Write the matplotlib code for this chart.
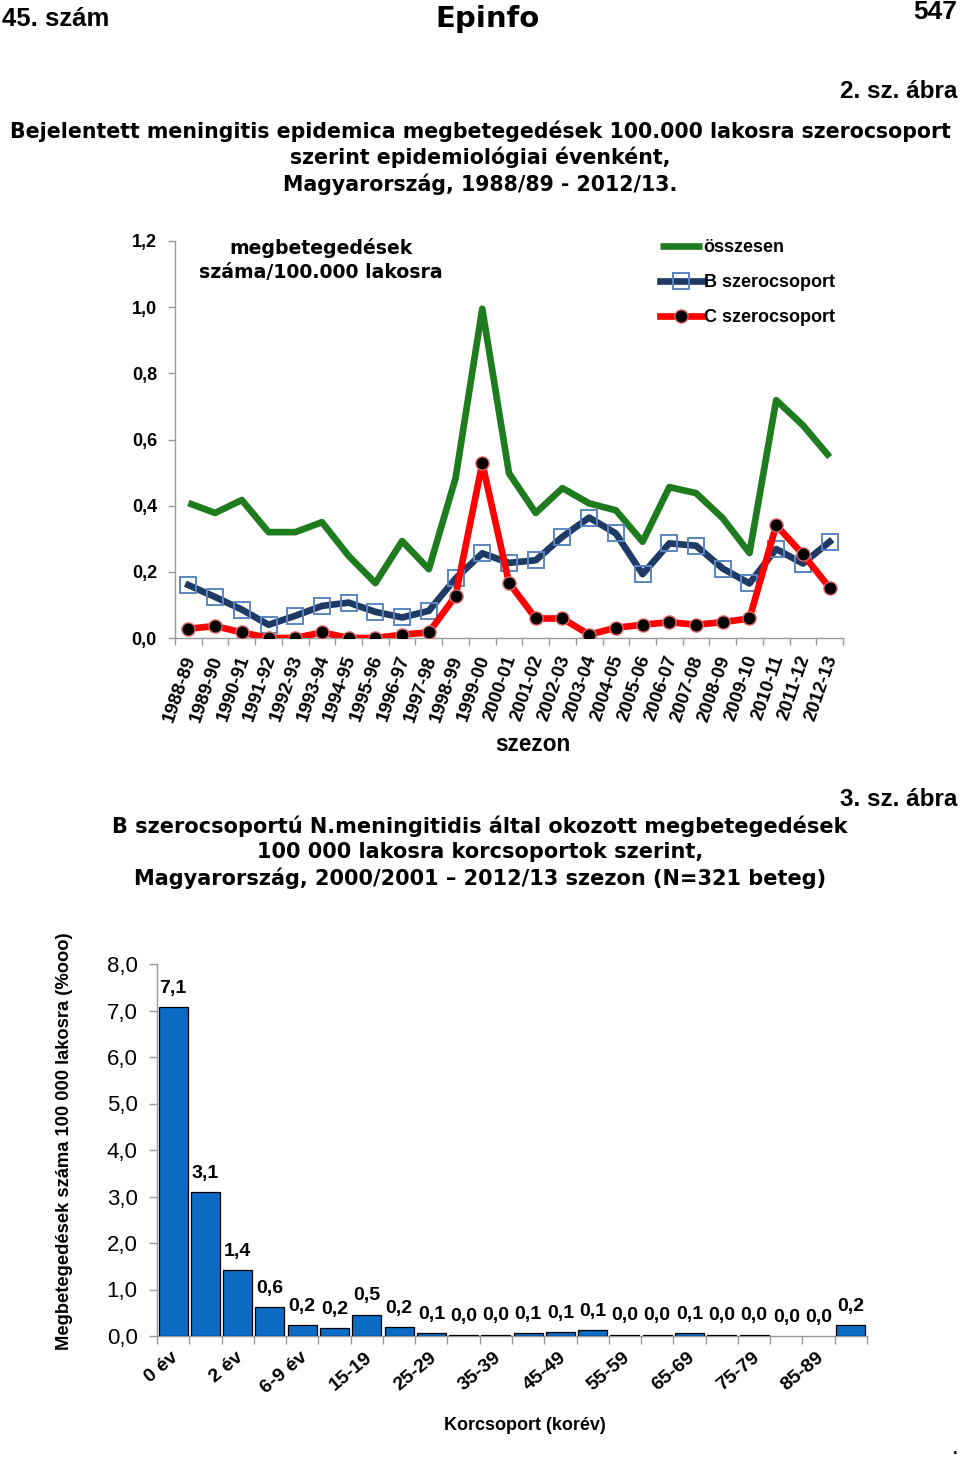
import matplotlib
matplotlib.use("Agg")
import matplotlib.pyplot as plt
from matplotlib.ticker import FuncFormatter, FixedLocator
import numpy as np

# ---------------- data: top chart ----------------
seasons = ["1988-89", "1989-90", "1990-91", "1991-92", "1992-93", "1993-94",
           "1994-95", "1995-96", "1996-97", "1997-98", "1998-99", "1999-00",
           "2000-01", "2001-02", "2002-03", "2003-04", "2004-05", "2005-06",
           "2006-07", "2007-08", "2008-09", "2009-10", "2010-11", "2011-12",
           "2012-13"]
total = [0.408, 0.378, 0.417, 0.320, 0.320, 0.350, 0.248, 0.166, 0.293, 0.208,
         0.483, 0.995, 0.498, 0.378, 0.453, 0.407, 0.386, 0.291, 0.456, 0.438,
         0.362, 0.257, 0.719, 0.643, 0.547]
serogroup_b = [0.160, 0.124, 0.086, 0.040, 0.067, 0.097, 0.107, 0.079, 0.062, 0.082,
               0.180, 0.256, 0.227, 0.235, 0.306, 0.364, 0.316, 0.193, 0.286, 0.279,
               0.210, 0.165, 0.269, 0.225, 0.291]
serogroup_c = [0.028, 0.036, 0.017, 0.000, 0.000, 0.017, 0.000, 0.000, 0.010, 0.017,
               0.127, 0.528, 0.167, 0.059, 0.059, 0.010, 0.031, 0.040, 0.048, 0.040,
               0.048, 0.059, 0.341, 0.253, 0.152]
series_names = ["összesen", "B szerocsoport", "C szerocsoport"]

# ---------------- data: bottom chart ----------------
age_groups = ["0 év", "1 év", "2 év", "3-5 év", "6-9 év", "10-14", "15-19", "20-24",
              "25-29", "30-34", "35-39", "40-44", "45-49", "50-54", "55-59", "60-64",
              "65-69", "70-74", "75-79", "80-84", "85-89", "90+"]
incidence = [7.07, 3.09, 1.41, 0.62, 0.24, 0.17, 0.46, 0.19,
             0.06, 0.02, 0.03, 0.06, 0.09, 0.12, 0.03, 0.03,
             0.06, 0.03, 0.03, 0.0, 0.0, 0.23]
shown_age_ticks = ["0 év", "2 év", "6-9 év", "15-19", "25-29", "35-39", "45-49",
                   "55-59", "65-69", "75-79", "85-89"]

W, H = 960, 1459
fig = plt.figure(figsize=(W / 100, H / 100), dpi=100)
fig.patch.set_facecolor("white")

SANS = ["Liberation Sans", "DejaVu Sans"]
WIDE = ["DejaVu Sans"]
GREY = "#9a9a9a"


def fx(px):
    return px / W


def fy(py):
    return 1 - py / H


def comma(v, pos=None):
    return f"{v:.1f}".replace(".", ",")


# ---------------- header ----------------
fig.text(fx(2), fy(19), "45. szám", family=SANS, weight="bold", fontsize=18.5,
         ha="left", va="center")
fig.text(fx(487), fy(19), "Epinfo", family="DejaVu Sans", weight="heavy", fontsize=21,
         ha="center", va="center")
fig.text(fx(957), fy(12), "547", family=SANS, weight="bold", fontsize=19,
         ha="right", va="center")
fig.text(fx(957), fy(91), "2. sz. ábra", family=SANS, weight="bold", fontsize=17.5,
         ha="right", va="center")
title1 = ["Bejelentett meningitis epidemica megbetegedések 100.000 lakosra szerocsoport",
          "szerint epidemiológiai évenként,",
          "Magyarország, 1988/89 - 2012/13."]
for line, yy in zip(title1, [131, 157, 184]):
    fig.text(fx(480), fy(yy), line, family=WIDE, weight="bold", fontsize=14.8,
             ha="center", va="center")

# ---------------- top chart ----------------
ax1 = fig.add_axes([fx(175), fy(638), fx(843) - fx(175), fy(241) - fy(638)])
x = np.arange(len(seasons))
ax1.plot(x, total, color="#1e7b1e", lw=4.8, solid_capstyle="butt",
         solid_joinstyle="round", label=series_names[0], zorder=2)
ax1.plot(x, serogroup_b, color="#1f3a64", lw=4.8, marker="s", ms=11,
         mfc="none", mec="#5b86c0", mew=1.4, solid_joinstyle="round",
         label=series_names[1], zorder=3)
ax1.plot(x, serogroup_c, color="#ff0000", lw=4.8, marker="o", ms=9.5,
         mfc="black", mec="#e46a6a", mew=1.0, solid_joinstyle="round",
         label=series_names[2], zorder=4)

ax1.set_xlim(-0.5, len(seasons) - 0.5)
ax1.set_ylim(0, 1.2)
ax1.set_yticks(np.arange(0, 1.21, 0.2))
ax1.yaxis.set_major_formatter(FuncFormatter(comma))
ax1.xaxis.set_major_locator(FixedLocator(np.arange(-0.5, len(seasons), 1.0)))
ax1.set_xticklabels([])
for s in ["top", "right"]:
    ax1.spines[s].set_visible(False)
for s in ["left", "bottom"]:
    ax1.spines[s].set_color(GREY)
    ax1.spines[s].set_linewidth(1.0)
ax1.tick_params(axis="both", direction="out", color=GREY, length=5, width=1)
ax1.tick_params(axis="y", pad=8, labelsize=13)
for lab in ax1.get_yticklabels():
    lab.set_fontweight("bold")
    lab.set_family(SANS)
for i, s in enumerate(seasons):
    ax1.text(i + 0.1, -0.055, s, rotation=71, rotation_mode="anchor", ha="right",
             va="center", family=SANS, weight="bold", fontsize=13.5,
             transform=ax1.transData, clip_on=False)
fig.text(fx(533), fy(744), "szezon", family=SANS, weight="bold", fontsize=16.3,
         ha="center", va="center")
fig.text(fx(321), fy(248), "megbetegedések", family=WIDE, weight="bold",
         fontsize=13.6, ha="center", va="center")
fig.text(fx(321), fy(273), "száma/100.000 lakosra", family=WIDE, weight="bold",
         fontsize=13.6, ha="center", va="center")

leg = ax1.legend(loc="upper left", bbox_to_anchor=(fx(660 - 175) / fx(843 - 175), 1.005),
                 frameon=False, borderpad=0, borderaxespad=0, handlelength=2.3,
                 handletextpad=0.12, labelspacing=1.0, numpoints=1,
                 prop={"family": SANS, "weight": "bold", "size": 13})

# ---------------- bottom section ----------------
fig.text(fx(957), fy(800), "3. sz. ábra", family=SANS, weight="bold", fontsize=17.5,
         ha="right", va="center")
title2 = ["B szerocsoportú N.meningitidis által okozott megbetegedések",
          "100 000 lakosra korcsoportok szerint,",
          "Magyarország, 2000/2001 – 2012/13 szezon (N=321 beteg)"]
for line, yy in zip(title2, [826, 852, 878]):
    fig.text(fx(480), fy(yy), line, family=WIDE, weight="bold", fontsize=15.0,
             ha="center", va="center")

ax2 = fig.add_axes([fx(157), fy(1336), fx(867) - fx(157), fy(964) - fy(1336)])
xb = np.arange(len(age_groups))
edge = ["black" if v > 0 else "none" for v in incidence]
ax2.bar(xb, incidence, width=0.9, color="#0a6cc4", edgecolor=edge, linewidth=0.9,
        zorder=3)
for i, v in enumerate(incidence):
    ax2.text(i, v + 0.22, comma(v), ha="center", va="bottom", family=SANS,
             weight="bold", fontsize=14)
ax2.set_xlim(-0.5, len(age_groups) - 0.5)
ax2.set_ylim(0, 8)
ax2.set_yticks(np.arange(0, 8.1, 1))
ax2.yaxis.set_major_formatter(FuncFormatter(comma))
ax2.xaxis.set_major_locator(FixedLocator(np.arange(-0.5, len(age_groups), 1.0)))
ax2.set_xticklabels([])
for s in ["top", "right"]:
    ax2.spines[s].set_visible(False)
for s in ["left", "bottom"]:
    ax2.spines[s].set_color(GREY)
    ax2.spines[s].set_linewidth(1.0)
ax2.tick_params(axis="both", direction="out", color=GREY, length=6, width=1)
ax2.tick_params(axis="y", pad=8, labelsize=16)
for lab in ax2.get_yticklabels():
    lab.set_family(SANS)
for name in shown_age_ticks:
    i = age_groups.index(name)
    ax2.text(i + 0.1, -0.42, name, rotation=40, rotation_mode="anchor", ha="right",
             va="center", family=SANS, weight="bold", fontsize=14,
             transform=ax2.transData, clip_on=False)
fig.text(fx(525), fy(1426), "Korcsoport (korév)", family=SANS, weight="bold",
         fontsize=13, ha="center", va="center")
fig.text(fx(65), fy(1141), "Megbetegedések száma 100 000 lakosra (%ooo)", family=SANS,
         weight="bold", fontsize=13.2, rotation=90, ha="center", va="center")
fig.text(fx(955), fy(1450), ".", family=SANS, weight="bold", fontsize=12,
         ha="center", va="center")

fig.savefig("out.png", dpi=100, facecolor="white")
